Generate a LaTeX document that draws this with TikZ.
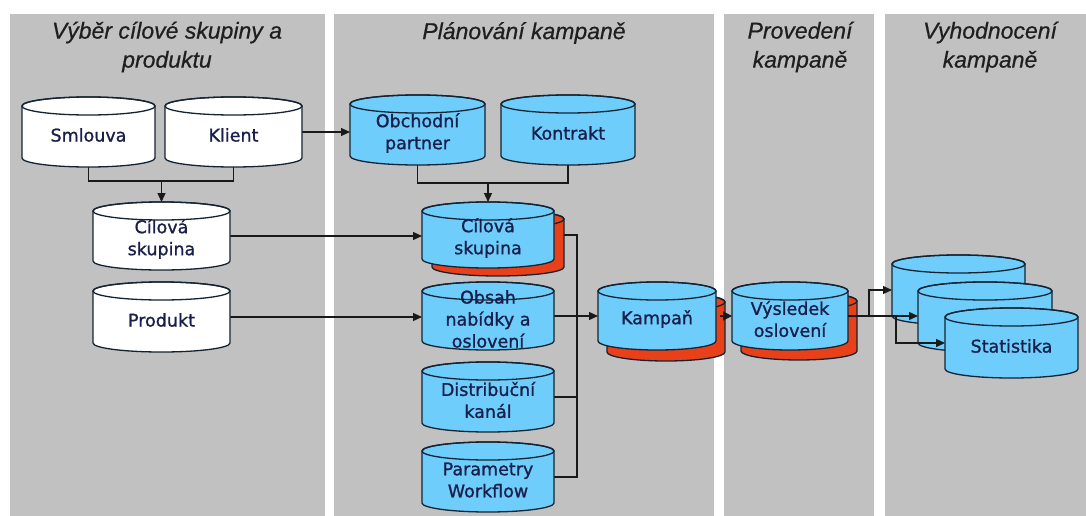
\documentclass[tikz,border=0pt]{standalone}
\usepackage{fontspec}
\setmainfont{Liberation Sans}[ItalicFeatures={FakeBold=0.6}]
\newfontfamily\cylfont{DejaVu Sans}[FakeBold=1.1]
\usetikzlibrary{arrows.meta}

\definecolor{panelgrey}{RGB}{193,193,193}
\definecolor{dbblue}{RGB}{110,205,250}
\definecolor{dbred}{RGB}{232,64,24}
\definecolor{outline}{RGB}{20,35,50}
\definecolor{labelink}{RGB}{25,30,75}

\pgfdeclarelayer{bg}
\pgfdeclarelayer{edges}
\pgfsetlayers{bg,edges,main}

\tikzset{
  panel/.style={fill=panelgrey},
  phase/.style={font=\fontsize{23}{29}\selectfont\itshape, text=black!88, align=center, inner sep=0pt},
  cylline/.style={draw=outline, line width=1.3pt},
  anchorbox/.style={inner sep=0pt, outer sep=0pt, draw=none, rectangle},
  cyltext/.style={font=\cylfont\fontsize{17.5}{22}\selectfont, text=labelink, align=center, inner sep=0pt},
  link/.style={draw=black!90, line width=1.3pt},
  arr/.style={link, -{Triangle[length=9pt,width=8pt]}},
}

% cylinder outline: left x, right x, top y, bottom y, fill
\newcommand\cylshape[5]{%
  \pgfmathsetmacro\cylcx{(#1+#2)/2}%
  \pgfmathsetmacro\cylrx{(#2-#1)/2}%
  \pgfmathsetmacro\cylyt{#3+9}%
  \pgfmathsetmacro\cylyb{#4-9}%
  \filldraw[cylline, fill=#5] (#1,\cylyt) -- (#1,\cylyb)
    arc[start angle=180, end angle=360, x radius=\cylrx pt, y radius=9pt]
    -- (#2,\cylyt)
    arc[start angle=0, end angle=180, x radius=\cylrx pt, y radius=9pt] -- cycle;
  \draw[cylline] (\cylcx,\cylyt) ellipse[x radius=\cylrx pt, y radius=9pt];
}

% named cylinder: name, left x, right x, top y, bottom y, fill, label
\newcommand\cylinderat[7]{%
  \cylshape{#2}{#3}{#4}{#5}{#6}%
  \pgfmathsetmacro\cylmx{(#2+#3)/2}%
  \pgfmathsetmacro\cylmy{(#4+#5)/2}%
  \node[anchorbox, minimum width={(#3-#2)*1pt}, minimum height={(#5-#4)*1pt}] (#1) at (\cylmx,\cylmy) {};
  \node[cyltext] (#1-t) at ([yshift=-3pt]#1.center) {#7};
}

\begin{document}
\begin{tikzpicture}[x=1pt, y=-1pt]
\useasboundingbox (0,0) rectangle (1086,516);

% phase columns
\begin{pgfonlayer}{bg}
  \fill[white] (0,0) rectangle (1086,516);
  \fill[panel] (10,14) rectangle (325,516);
  \fill[panel] (334,14) rectangle (714,516);
  \fill[panel] (724,14) rectangle (874,516);
  \fill[panel] (885,14) rectangle (1086,516);
\end{pgfonlayer}

\node[phase] (ph1) at (167,47) {Výběr cílové skupiny a\\produktu};
\node[phase] (ph2) at (524,33) {Plánování kampaně};
\node[phase] (ph3) at (800,47) {Provedení\\kampaně};
\node[phase] (ph4) at (990,47) {Vyhodnocení\\kampaně};

% target group and product selection
\cylinderat{smlouva}{22}{155}{97}{167}{white}{Smlouva}
\cylinderat{klient}{165}{302}{97}{167}{white}{Klient}
\cylinderat{cilw}{93}{230}{202}{270}{white}{Cílová\\skupina}
\cylinderat{produkt}{93}{230}{282}{352}{white}{Produkt}

% campaign planning
\cylinderat{obch}{350}{485}{95}{165}{dbblue}{Obchodní\\partner}
\cylinderat{kontr}{501}{635}{95}{165}{dbblue}{Kontrakt}
\cylshape{432}{564}{210}{276}{dbred}
\cylinderat{cilb}{422}{554}{202}{268}{dbblue}{Cílová\\skupina}
\cylinderat{obsah}{422}{554}{282}{350}{dbblue}{Obsah\\nabídky a\\oslovení}
\cylinderat{distr}{422}{554}{362}{432}{dbblue}{Distribuční\\kanál}
\cylinderat{param}{422}{554}{442}{512}{dbblue}{Parametry\\Workflow}
\cylshape{607}{725}{293}{361}{dbred}
\cylinderat{kamp}{598}{716}{282}{350}{dbblue}{Kampaň}

% campaign execution
\cylshape{741}{857}{292}{360}{dbred}
\cylinderat{vys}{732}{848}{282}{350}{dbblue}{Výsledek\\oslovení}

% campaign evaluation
\cylinderat{st1}{892}{1025}{255}{325}{dbblue}{}
\cylinderat{st2}{918}{1052}{282}{352}{dbblue}{}
\cylinderat{st3}{945}{1078}{308}{378}{dbblue}{Statistika}

% connectors running behind the cylinders
\begin{pgfonlayer}{edges}
  \coordinate (j1) at ([yshift=21pt]cilw.north);
  \draw[link] (smlouva.south) |- (j1) -| (klient.south);
  \draw[arr] (j1) -- (cilw.north);
  \draw[arr] (klient.east) -- (klient.east -| obch.west);
  \draw[arr] (cilw.east) -- (cilw.east -| cilb.west);
  \draw[arr] (produkt.east) -- (produkt.east -| obsah.west);

  \coordinate (j2) at ([yshift=19pt]cilb.north);
  \draw[link] (obch.south) |- (j2) -| (kontr.south);
  \draw[arr] (j2) -- (cilb.north);

  \coordinate (bus) at ([xshift=23pt]cilb.east);
  \draw[link] (cilb.east) -- (bus) -- (bus |- param.east) -- (param.east);
  \draw[link] (distr.east) -- (distr.east -| bus);
  \draw[arr] (obsah.east) -- (obsah.east -| kamp.west);
\end{pgfonlayer}

% short link from the campaign shadow to the response result
\coordinate (k1) at ([xshift=4pt]kamp.east);
\draw[arr, -{Triangle[length=9pt,width=9pt]}] (k1) -- (k1 -| vys.west);

% connectors into the statistics stack
\coordinate (s1) at ([xshift=21pt]vys.east);
\coordinate (s2) at ([xshift=48pt]vys.east);
\draw[arr] (vys.east) -- (vys.east -| st2.west);
\draw[arr] (s1) |- (st1.west);
\draw[arr] (s2) |- (st3.west);
\end{tikzpicture}
\end{document}
